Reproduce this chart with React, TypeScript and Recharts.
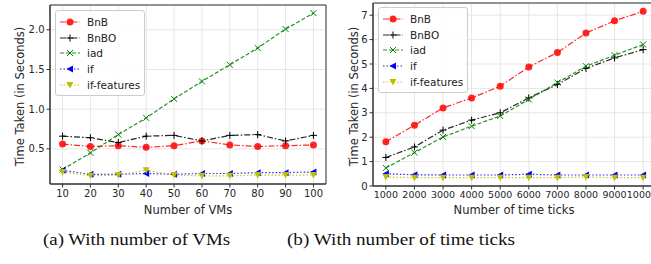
import React from "react";
import { LineChart, Line, XAxis, YAxis, CartesianGrid, ReferenceArea } from "recharts";

// (a) number of VMs
const vmCounts = [10, 20, 30, 40, 50, 60, 70, 80, 90, 100];
const vmBnB = [0.56, 0.53, 0.54, 0.52, 0.54, 0.6, 0.55, 0.53, 0.54, 0.55];
const vmBnBO = [0.66, 0.64, 0.58, 0.66, 0.67, 0.6, 0.67, 0.68, 0.6, 0.67];
const vmIad = [0.24, 0.45, 0.68, 0.89, 1.13, 1.35, 1.56, 1.77, 2.01, 2.21];
const vmIf = [0.23, 0.18, 0.18, 0.19, 0.18, 0.19, 0.19, 0.2, 0.2, 0.21];
const vmIfFeat = [0.21, 0.16, 0.17, 0.23, 0.17, 0.16, 0.16, 0.17, 0.17, 0.17];
const vmYTicks = [0.5, 1.0, 1.5, 2.0];

// (b) number of time ticks
const timeTicks = [1000, 2000, 3000, 4000, 5000, 6000, 7000, 8000, 9000, 10000];
// the last label is cut at the figure edge in the original, only "1000" shows
const timeTickLabels = ["1000", "2000", "3000", "4000", "5000", "6000", "7000", "8000", "9000", "1000"];
const ttBnB = [1.81, 2.49, 3.2, 3.61, 4.09, 4.88, 5.47, 6.27, 6.77, 7.16];
const ttBnBO = [1.17, 1.6, 2.29, 2.7, 3.0, 3.61, 4.16, 4.82, 5.25, 5.59];
const ttIad = [0.74, 1.37, 2.01, 2.45, 2.87, 3.55, 4.24, 4.91, 5.36, 5.8];
const ttIf = [0.5, 0.46, 0.45, 0.45, 0.45, 0.48, 0.45, 0.45, 0.45, 0.45];
const ttIfFeat = [0.37, 0.34, 0.34, 0.34, 0.34, 0.34, 0.34, 0.37, 0.34, 0.34];
const ttYTicks = [0, 1, 2, 3, 4, 5, 6, 7];

const series = [
  { key: "BnB", name: "BnB", color: "#ff0000", dash: "6 2 1.5 2", marker: "circle" },
  { key: "BnBO", name: "BnBO", color: "#000000", dash: "6 2 1.5 2", marker: "plus" },
  { key: "iad", name: "iad", color: "#008000", dash: "4 2", marker: "x" },
  { key: "ifx", name: "if", color: "#0000ff", dash: "1.5 2", marker: "left" },
  { key: "ifFeat", name: "if-features", color: "#bfbf00", dash: "1.5 2", marker: "down" },
];

const vmRows = vmCounts.map((x, i) => ({
  x, BnB: vmBnB[i], BnBO: vmBnBO[i], iad: vmIad[i], ifx: vmIf[i], ifFeat: vmIfFeat[i],
}));
const ttRows = timeTicks.map((x, i) => ({
  x, BnB: ttBnB[i], BnBO: ttBnBO[i], iad: ttIad[i], ifx: ttIf[i], ifFeat: ttIfFeat[i],
}));

const FONT = "'DejaVu Sans', sans-serif";
const tickStyle = { fontSize: 10, fill: "#262626", fontFamily: FONT };

const Marker = ({ type, cx, cy, color }: { type: string; cx: number; cy: number; color: string }) => {
  if (type === "circle") return <circle cx={cx} cy={cy} r={3.5} fill={color} fillOpacity={0.85} stroke="none" />;
  if (type === "plus")
    return (
      <g stroke={color} strokeWidth={1}>
        <line x1={cx - 3.5} y1={cy} x2={cx + 3.5} y2={cy} />
        <line x1={cx} y1={cy - 3.5} x2={cx} y2={cy + 3.5} />
      </g>
    );
  if (type === "x")
    return (
      <g stroke={color} strokeWidth={1}>
        <line x1={cx - 3} y1={cy - 3} x2={cx + 3} y2={cy + 3} />
        <line x1={cx - 3} y1={cy + 3} x2={cx + 3} y2={cy - 3} />
      </g>
    );
  if (type === "left")
    return <polygon points={`${cx - 3.5},${cy} ${cx + 3},${cy - 3.5} ${cx + 3},${cy + 3.5}`} fill={color} />;
  return <polygon points={`${cx - 3.5},${cy - 3} ${cx + 3.5},${cy - 3} ${cx},${cy + 3.5}`} fill={color} />;
};

const LegendBox = ({ left, top }: { left: number; top: number }) => (
  <div
    style={{
      position: "absolute", left, top, width: 88, padding: "3px 0 2px 0",
      background: "rgba(255,255,255,0.85)", border: "1px solid #cccccc", borderRadius: 3,
      fontFamily: FONT, fontSize: 10.5, color: "#222",
    }}
  >
    {series.map((s) => (
      <div key={s.key} style={{ display: "flex", alignItems: "center", height: 15.8 }}>
        <svg width={28} height={12} style={{ marginLeft: 2 }}>
          <line x1={2} y1={6} x2={22} y2={6} stroke={s.color} strokeWidth={1.2} strokeDasharray={s.dash} strokeOpacity={0.85} />
          <Marker type={s.marker} cx={12} cy={6} color={s.color} />
        </svg>
        <span style={{ marginLeft: 1 }}>{s.name}</span>
      </div>
    ))}
  </div>
);

// x tick for chart (b): the last label is pulled in so it ends at the page edge
const TimeTick = (props: any) => {
  const { x, y, payload, index } = props;
  const last = index === timeTicks.length - 1;
  return (
    <text
      x={last ? 321 : x}
      y={y}
      dy="0.71em"
      textAnchor={last ? "end" : "middle"}
      {...tickStyle}
      fontSize={9.5}
    >
      {timeTickLabels[index] ?? String(payload.value)}
    </text>
  );
};

const renderLines = () =>
  series.map((s) => (
    <Line
      key={s.key}
      dataKey={s.key}
      name={s.name}
      stroke={s.color}
      strokeOpacity={0.85}
      strokeWidth={1.2}
      strokeDasharray={s.dash}
      isAnimationActive={false}
      dot={(p: any) => <Marker key={`${s.key}-${p.index}`} type={s.marker} cx={p.cx} cy={p.cy} color={s.color} />}
      activeDot={false}
    />
  ));

export default function App() {
  return (
    <div style={{ position: "fixed", left: 0, top: 0, width: 651, height: 264, overflow: "hidden", background: "#fff" }}>
      <div style={{ position: "absolute", left: 0, top: 0, width: 330, height: 220 }}>
        <LineChart width={330} height={220} data={vmRows} margin={{ top: 5, right: 4, bottom: 0, left: 0 }}>
          <CartesianGrid stroke="#e6e6e6" />
          <XAxis
            type="number" dataKey="x" domain={[5.5, 104.5]} ticks={vmCounts} allowDataOverflow
            height={36} tick={tickStyle} tickSize={3.5} tickMargin={2}
            stroke="#333" interval={0}
          />
          <YAxis
            type="number" domain={[0.0575, 2.3125]} ticks={vmYTicks} allowDataOverflow width={50}
            tick={tickStyle} tickSize={3.5} tickMargin={2} stroke="#333"
            tickFormatter={(v: number) => v.toFixed(1)}
          />
          <ReferenceArea x1={5.5} x2={104.5} y1={0.0575} y2={2.3125} fill="none" stroke="#333" strokeWidth={1} />
          {renderLines()}
        </LineChart>
        <LegendBox left={55} top={10} />
      </div>
      <div style={{ position: "absolute", left: 330, top: 0, width: 330, height: 220 }}>
        <LineChart width={330} height={220} data={ttRows} margin={{ top: 3, right: 4, bottom: 0, left: 0 }}>
          <CartesianGrid stroke="#e6e6e6" />
          <XAxis
            type="number" dataKey="x" domain={[550, 10450]} ticks={timeTicks} allowDataOverflow
            height={34} tick={<TimeTick />} tickSize={3.5} tickMargin={2}
            stroke="#333" interval={0}
          />
          <YAxis
            type="number" domain={[0, 7.5]} ticks={ttYTicks} allowDataOverflow width={43}
            tick={tickStyle} tickSize={3.5} tickMargin={2} stroke="#333"
          />
          <ReferenceArea x1={550} x2={10450} y1={0} y2={7.5} fill="none" stroke="#333" strokeWidth={1} />
          {renderLines()}
        </LineChart>
        <LegendBox left={48} top={7} />
      </div>
      <svg width={651} height={264} style={{ position: "absolute", left: 0, top: 0, pointerEvents: "none" }}>
        <g fontFamily={FONT} fontSize={11.5} fill="#262626" textAnchor="middle">
          <text x={188} y={214}>Number of VMs</text>
          <text x={514} y={214}>Number of time ticks</text>
          <text transform="translate(23.5,96.5) rotate(-90)">Time Taken (in Seconds)</text>
          <text transform="translate(357.5,96.5) rotate(-90)">Time Taken (in Seconds)</text>
        </g>
        <g fontFamily="'Liberation Serif', serif" fontSize={16} fill="#111">
          <text x={43} y={245} textLength={187} lengthAdjust="spacingAndGlyphs">(a) With number of VMs</text>
          <text x={287} y={245} textLength={228} lengthAdjust="spacingAndGlyphs">(b) With number of time ticks</text>
        </g>
      </svg>
    </div>
  );
}
